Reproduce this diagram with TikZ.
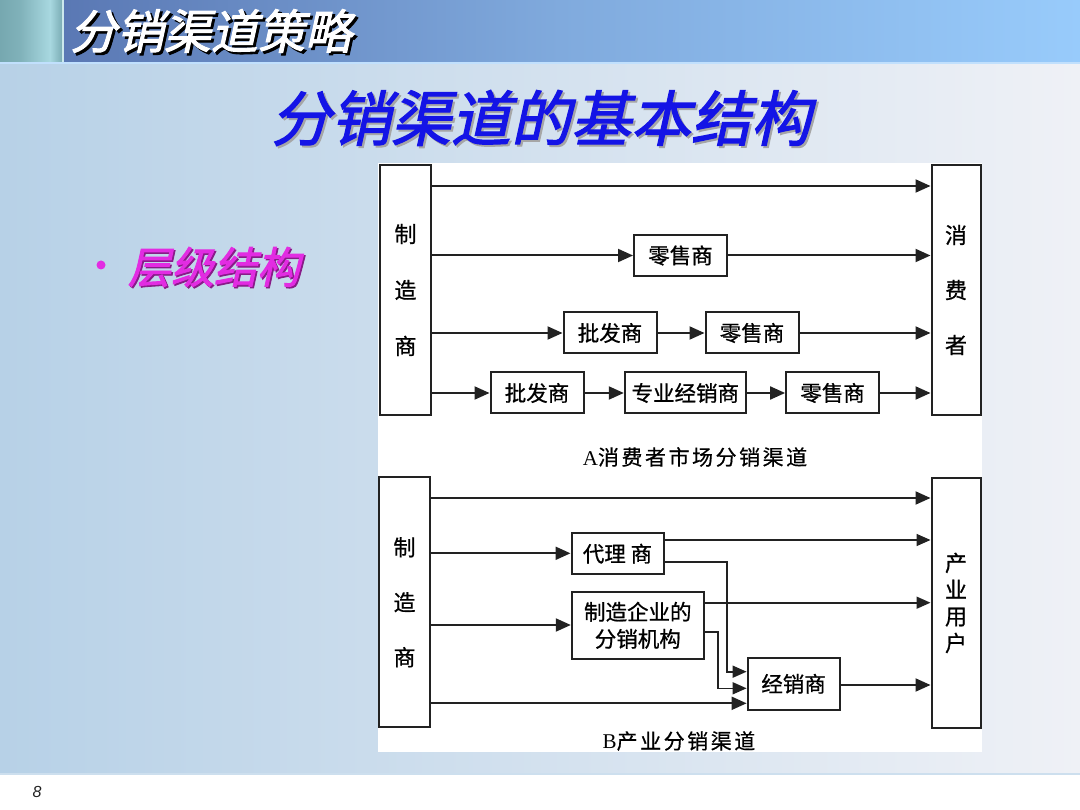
\documentclass[tikz,border=0pt]{standalone}
\usepackage{fontspec}
\usetikzlibrary{arrows.meta}
\newfontfamily\cjk[FakeBold=0.8]{Noto Sans CJK SC}
\newfontfamily\cjkbi[FakeSlant=0.22,FakeBold=2]{Noto Sans CJK SC}
\newfontfamily\cjkcap[LetterSpace=12,FakeBold=0.5]{Noto Sans CJK SC}
\newfontfamily\serifA{Liberation Serif}
\newfontfamily\sansI{Liberation Sans}
\definecolor{linec}{HTML}{222222}
\definecolor{bgL}{HTML}{B7D1E7}
\definecolor{bgR}{HTML}{EFF1F6}
\definecolor{barL}{HTML}{5A78B4}
\definecolor{barM}{HTML}{80AADD}
\definecolor{barR}{HTML}{98CBFB}
\definecolor{cornO}{HTML}{76A8B0}
\definecolor{cornI}{HTML}{A8D8E0}
\definecolor{titleblue}{HTML}{1414E6}
\definecolor{magentat}{HTML}{E22CE2}
\tikzset{
  boxA/.style={draw=linec, line width=2pt, fill=white, rectangle, inner sep=0pt,
    font=\cjk\fontsize{21.5}{24}\selectfont, text=black},
  tallbox/.style={draw=linec, line width=2pt, fill=white, rectangle, inner sep=0pt,
    align=center, text=black},
  arr/.style={draw=linec, line width=2pt, -{Triangle[length=15pt,width=13pt]}},
  arrthin/.style={draw=linec, line width=1.6pt, -{Triangle[length=14pt,width=12pt]}},
  caption/.style={inner sep=0pt, text=black, font=\cjkcap\fontsize{21}{24}\selectfont}
}
\begin{document}
\begin{tikzpicture}[x=1pt,y=-1pt]
\useasboundingbox (0,0) rectangle (1080,810);
% background
\fill[white] (0,0) rectangle (1080,810);
\shade[left color=bgL, right color=bgR] (0,62) rectangle (1080,773);
\fill[bgL!70!white] (0,773) rectangle (1080,775);
% header
\shade[left color=cornO, right color=cornO!80!cornI] (0,0) rectangle (20,62);
\shade[left color=cornO!80!cornI, right color=cornI] (20,0) rectangle (50,62);
\shade[left color=cornI, right color=cornO!90!cornI] (50,0) rectangle (62,62);
\fill[cornI!60!white] (62,0) rectangle (64,62);
\shade[left color=barL, right color=barM] (64,0) rectangle (560,62);
\shade[left color=barM, right color=barR] (560,0) rectangle (1080,62);
\fill[barR!60!white] (0,62) rectangle (1080,64);
\node[inner sep=0pt, text=black, font=\cjkbi\fontsize{47}{50}\selectfont] (hdrs) at (213.5,33.5) {分销渠道策略};
\node[inner sep=0pt, text=white, font=\cjkbi\fontsize{47}{50}\selectfont] (hdr) at (211,31) {分销渠道策略};
% title
\node[inner sep=0pt, text=gray!70, font=\cjkbi\fontsize{60}{64}\selectfont] (titles) at (543,120) {分销渠道的基本结构};
\node[inner sep=0pt, text=titleblue, font=\cjkbi\fontsize{60}{64}\selectfont] (title) at (541,118) {分销渠道的基本结构};
% bullet
\fill[magentat] (101,265) circle (4.5);
\node[inner sep=0pt, text=magentat!60!black, font=\cjkbi\fontsize{43}{46}\selectfont] (bullets) at (215.5,268.5) {层级结构};
\node[inner sep=0pt, text=magentat, font=\cjkbi\fontsize{43}{46}\selectfont] (bullet) at (214,267) {层级结构};
% page number
\node[inner sep=0pt, text=linec, font=\sansI\itshape\fontsize{16}{18}\selectfont] (pg) at (37,792) {8};
% diagram area
\fill[white] (378,163) rectangle (982,752);
% ---- A ----
\node[tallbox, minimum width=51pt, minimum height=250pt, font=\cjk\fontsize{22}{56}\selectfont] (mA) at (405.5,290) {制\\造\\商};
\node[tallbox, minimum width=49pt, minimum height=250pt, font=\cjk\fontsize{22}{55}\selectfont] (cA) at (956,290) {消\\费\\者};
\node[boxA, minimum width=93pt, minimum height=41pt] (r1) at (680.5,255.5) {零售商};
\node[boxA, minimum width=93pt, minimum height=41pt] (w2) at (610,333) {批发商};
\node[boxA, minimum width=93pt, minimum height=41pt] (r2) at (752,333) {零售商};
\node[boxA, minimum width=93pt, minimum height=41pt] (w3) at (537,393) {批发商};
\node[boxA, minimum width=121pt, minimum height=41pt] (s3) at (685.3,393) {专业经销商};
\node[boxA, minimum width=93pt, minimum height=41pt] (r3) at (832.6,393) {零售商};
\draw[arr] (mA.east |- 0,186) -- (cA.west |- 0,186);
\draw[arr] (mA.east |- r1.west) -- (r1.west);
\draw[arr] (r1.east) -- (cA.west |- r1.east);
\draw[arr] (mA.east |- w2.west) -- (w2.west);
\draw[arr] (w2.east) -- (r2.west);
\draw[arr] (r2.east) -- (cA.west |- r2.east);
\draw[arr] (mA.east |- w3.west) -- (w3.west);
\draw[arr] (w3.east) -- (s3.west);
\draw[arr] (s3.east) -- (r3.west);
\draw[arr] (r3.east) -- (cA.west |- r3.east);
\node[caption] (capA) at (695,457) {{\serifA A}消费者市场分销渠道};
% ---- B ----
\node[tallbox, minimum width=51pt, minimum height=250pt, font=\cjk\fontsize{22}{55}\selectfont] (mB) at (404.5,602.3) {制\\造\\商};
\node[tallbox, minimum width=49pt, minimum height=250pt, font=\cjk\fontsize{22}{26.7}\selectfont] (uB) at (956,603) {产\\业\\用\\户};
\node[boxA, minimum width=92pt, minimum height=41pt] (ag) at (617.5,553.7) {代理 商};
\node[boxA, minimum width=132pt, minimum height=67pt, align=center, font=\cjk\fontsize{21.5}{27}\selectfont] (mf) at (637.8,625.3) {制造企业的\\分销机构};
\node[boxA, minimum width=92pt, minimum height=52pt] (dl) at (793.6,683.8) {经销商};
\coordinate (bend1) at (726.7,671.7);
\coordinate (bend2) at (718,688.3);
\draw[arr] (mB.east |- 0,498) -- (uB.west |- 0,498);
\draw[arr] (mB.east |- 0,553.3) -- (ag.west |- 0,553.3);
\draw[arr] (mB.east |- 0,625) -- (mf.west |- 0,625);
\draw[arr] (mB.east |- 0,703.3) -- (dl.west |- 0,703.3);
\draw[arrthin] (ag.east |- 0,540) -- (uB.west |- 0,540);
\draw[arrthin] (ag.east |- 0,561.7) -| (bend1) -- (dl.west |- bend1);
\draw[arrthin] (mf.east |- 0,602.7) -- (uB.west |- 0,602.7);
\draw[arrthin] (mf.east |- 0,631.7) -| (bend2) -- (dl.west |- bend2);
\draw[arr] (dl.east |- 0,685) -- (uB.west |- 0,685);
\node[caption] (capB) at (679,741) {{\serifA B}产业分销渠道};
\end{tikzpicture}
\end{document}
